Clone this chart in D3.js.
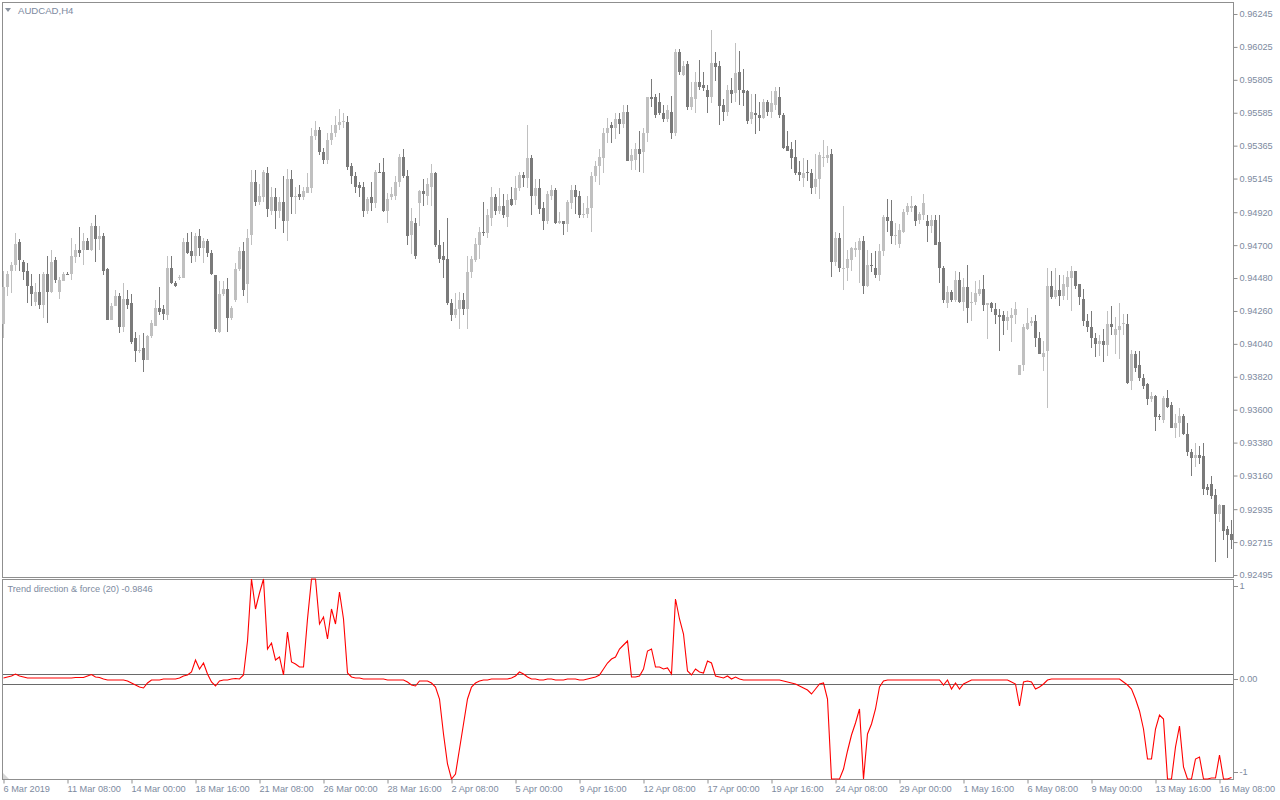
<!DOCTYPE html>
<html><head><meta charset="utf-8">
<script src="https://cdn.jsdelivr.net/npm/d3@7"></script>
<style>
html,body{margin:0;padding:0;background:#fff;overflow:hidden;}
svg{display:block;}
text{font-family:"Liberation Sans",Arial,sans-serif;}
</style></head><body>
<svg id="c" width="1280" height="800"></svg>
<script>
const symbolTitle = "AUDCAD,H4";
const indicatorTitle = "Trend direction & force (20) -0.9846";
const priceLabels = ["0.96245","0.96025","0.95805","0.95585","0.95365","0.95145","0.94920","0.94700","0.94480","0.94260","0.94040","0.93820","0.93600","0.93380","0.93160","0.92935","0.92715","0.92495"];
const timeLabels = ["6 Mar 2019","11 Mar 08:00","14 Mar 00:00","18 Mar 16:00","21 Mar 08:00","26 Mar 00:00","28 Mar 16:00","2 Apr 08:00","5 Apr 00:00","9 Apr 16:00","12 Apr 08:00","17 Apr 00:00","19 Apr 16:00","24 Apr 08:00","29 Apr 00:00","1 May 16:00","6 May 08:00","9 May 00:00","13 May 16:00","16 May 08:00"];
const timeTickBars = [0,16,32,48,64,80,96,112,128,144,160,176,192,208,224,240,256,272,288,304];
const trendAxisValues = [1, 0, -1];
const trendAxisLabels = ["1", "0.00", "-1"];
const trendLevels = [0.05, -0.05];

// prices in pips (x 0.0001)
const openP = [
9417,9442,9453,9457,9472,9459,9453,9443,9432,9439,
9430,9451,9439,9460,9439,9446,9451,9451,9462,9467,
9467,9473,9467,9483,9474,9476,9454,9420,9429,9436,
9415,9434,9431,9408,9399,9401,9393,9409,9416,9428,
9427,9423,9455,9445,9448,9448,9472,9466,9463,9476,
9468,9473,9465,9450,9412,9437,9441,9421,9433,9454,
9466,9444,9477,9512,9499,9502,9518,9493,9502,9493,
9499,9486,9514,9502,9504,9502,9505,9508,9543,9547,
9532,9527,9540,9545,9550,9552,9552,9523,9516,9510,
9509,9493,9502,9498,9519,9519,9493,9502,9503,9512,
9529,9516,9477,9485,9498,9506,9503,9509,9518,9470,
9463,9461,9431,9423,9427,9433,9427,9452,9460,9470,
9479,9478,9488,9502,9493,9496,9489,9501,9500,9508,
9517,9515,9528,9503,9508,9495,9486,9503,9507,9485,
9486,9484,9498,9507,9503,9490,9491,9495,9516,9523,
9528,9545,9550,9548,9554,9551,9559,9526,9527,9534,
9532,9545,9569,9569,9566,9558,9554,9559,9545,9599,
9584,9591,9562,9568,9579,9577,9574,9569,9592,9590,
9564,9559,9574,9572,9586,9574,9573,9554,9558,9557,
9555,9566,9559,9564,9569,9557,9536,9534,9529,9519,
9515,9519,9518,9509,9514,9528,9528,9531,9459,9475,
9454,9455,9460,9467,9467,9473,9443,9457,9455,9450,
9466,9489,9486,9476,9471,9479,9492,9495,9496,9487,
9490,9486,9483,9487,9472,9455,9431,9439,9433,9447,
9432,9442,9431,9432,9437,9441,9430,9431,9427,9423,
9423,9419,9421,9423,9383,9390,9414,9418,9419,9408,
9395,9399,9443,9435,9440,9436,9442,9448,9453,9444,
9434,9419,9415,9408,9404,9406,9403,9417,9410,9413,
9417,9417,9379,9397,9390,9381,9377,9367,9369,9356,
9353,9368,9363,9348,9351,9356,9344,9332,9328,9330,
9329,9308,9310,9303,9290,9296,9280,9277];
const highP = [
9453,9453,9459,9478,9474,9460,9458,9451,9445,9451,
9452,9463,9467,9462,9449,9452,9452,9475,9471,9482,
9478,9475,9485,9490,9483,9478,9455,9431,9440,9438,
9445,9440,9437,9412,9410,9411,9410,9420,9433,9442,
9430,9463,9463,9446,9450,9475,9478,9479,9478,9481,
9475,9474,9467,9450,9446,9446,9448,9429,9458,9469,
9472,9481,9520,9520,9511,9520,9522,9509,9508,9502,
9516,9521,9520,9509,9510,9509,9518,9548,9553,9549,
9535,9545,9550,9556,9561,9558,9556,9525,9519,9512,
9512,9502,9512,9520,9525,9528,9505,9509,9516,9531,
9534,9520,9495,9488,9507,9514,9515,9524,9519,9480,
9472,9488,9434,9438,9439,9438,9463,9463,9475,9482,
9499,9494,9509,9504,9508,9504,9504,9509,9516,9519,
9519,9550,9530,9514,9514,9499,9506,9510,9508,9492,
9486,9500,9510,9510,9506,9498,9503,9519,9526,9534,
9548,9555,9552,9558,9558,9564,9564,9534,9538,9546,
9548,9569,9581,9571,9572,9564,9564,9570,9601,9601,
9593,9593,9579,9586,9594,9586,9577,9614,9599,9593,
9568,9577,9582,9605,9600,9588,9574,9571,9571,9566,
9568,9567,9573,9576,9576,9558,9546,9539,9540,9526,
9528,9527,9521,9531,9532,9540,9536,9534,9479,9478,
9496,9467,9469,9472,9475,9476,9467,9465,9466,9471,
9490,9501,9500,9485,9484,9494,9498,9503,9497,9492,
9504,9490,9490,9490,9490,9456,9443,9440,9453,9452,
9448,9457,9439,9446,9447,9450,9431,9432,9431,9427,
9426,9426,9428,9432,9390,9417,9428,9422,9423,9412,
9406,9455,9453,9455,9450,9450,9453,9456,9453,9444,
9441,9424,9426,9411,9410,9414,9426,9429,9422,9431,
9424,9424,9400,9399,9399,9384,9378,9372,9370,9357,
9369,9373,9365,9357,9361,9357,9351,9334,9338,9336,
9338,9310,9316,9307,9297,9296,9282,9286];
const lowP = [
9408,9436,9438,9453,9453,9447,9431,9429,9429,9427,
9421,9418,9438,9445,9434,9446,9450,9447,9458,9462,
9457,9467,9466,9459,9467,9450,9420,9420,9429,9411,
9412,9427,9404,9392,9398,9385,9393,9408,9416,9423,
9420,9420,9444,9442,9447,9448,9464,9458,9459,9463,
9458,9462,9450,9412,9411,9436,9412,9420,9432,9453,
9436,9431,9470,9496,9497,9499,9489,9490,9481,9488,
9478,9473,9491,9491,9500,9500,9505,9505,9540,9530,
9524,9524,9537,9542,9547,9548,9520,9511,9505,9502,
9489,9491,9493,9495,9518,9492,9485,9500,9500,9509,
9515,9470,9464,9461,9483,9496,9497,9496,9469,9458,
9448,9430,9419,9421,9414,9423,9414,9448,9459,9461,
9476,9475,9483,9490,9491,9488,9482,9496,9497,9506,
9509,9508,9490,9497,9491,9480,9484,9500,9484,9484,
9477,9479,9494,9491,9488,9488,9488,9479,9512,9510,
9518,9538,9538,9541,9544,9548,9526,9520,9520,9519,
9518,9539,9562,9555,9557,9552,9552,9541,9543,9584,
9583,9560,9560,9558,9574,9573,9558,9565,9580,9550,
9553,9556,9565,9566,9564,9563,9551,9551,9544,9546,
9554,9556,9555,9560,9555,9534,9533,9521,9517,9513,
9509,9513,9504,9504,9501,9522,9525,9449,9456,9452,
9440,9446,9453,9462,9445,9437,9442,9452,9448,9446,
9463,9479,9471,9470,9468,9478,9490,9492,9483,9484,
9487,9472,9478,9470,9445,9431,9428,9432,9432,9431,
9426,9418,9419,9430,9436,9426,9407,9425,9417,9399,
9410,9413,9405,9417,9383,9386,9413,9416,9402,9397,
9386,9361,9434,9434,9429,9433,9433,9426,9441,9430,
9416,9412,9401,9395,9396,9392,9396,9410,9397,9394,
9410,9377,9373,9385,9379,9374,9363,9365,9346,9353,
9351,9361,9348,9341,9342,9343,9329,9316,9322,9324,
9303,9303,9300,9258,9285,9273,9261,9267];
const closeP = [
9442,9451,9457,9471,9460,9452,9443,9437,9439,9430,
9451,9439,9459,9447,9447,9451,9451,9463,9467,9465,
9473,9467,9483,9474,9476,9453,9420,9429,9436,9415,
9434,9430,9405,9399,9400,9393,9409,9418,9428,9425,
9424,9455,9445,9443,9449,9472,9465,9463,9476,9468,
9473,9465,9451,9414,9437,9441,9421,9428,9454,9466,
9440,9475,9512,9499,9503,9519,9494,9502,9493,9499,
9486,9514,9502,9503,9502,9506,9509,9543,9547,9532,
9527,9540,9545,9550,9552,9553,9522,9516,9509,9508,
9493,9501,9498,9519,9519,9493,9501,9504,9512,9529,
9516,9476,9486,9463,9506,9504,9511,9518,9470,9461,
9460,9431,9423,9427,9433,9427,9452,9461,9471,9479,
9478,9490,9502,9493,9496,9490,9500,9497,9508,9517,
9515,9528,9503,9508,9494,9486,9504,9507,9485,9486,
9484,9499,9507,9502,9490,9491,9495,9516,9523,9529,
9545,9548,9548,9554,9551,9559,9526,9530,9534,9531,
9545,9569,9568,9557,9558,9554,9560,9545,9599,9586,
9590,9562,9569,9579,9576,9575,9569,9592,9589,9563,
9559,9574,9571,9585,9574,9572,9553,9559,9557,9555,
9566,9559,9565,9573,9557,9535,9533,9528,9518,9517,
9518,9518,9508,9514,9530,9529,9530,9459,9475,9455,
9455,9461,9468,9468,9473,9443,9457,9456,9450,9466,
9489,9486,9476,9477,9480,9492,9496,9496,9486,9491,
9498,9483,9487,9470,9455,9433,9439,9433,9447,9432,
9442,9428,9432,9438,9441,9430,9431,9428,9423,9422,
9419,9422,9423,9427,9390,9415,9418,9419,9408,9397,
9398,9443,9435,9440,9436,9444,9449,9453,9443,9435,
9419,9415,9408,9404,9406,9403,9417,9415,9414,9416,
9418,9378,9397,9388,9381,9376,9367,9369,9355,9355,
9368,9362,9348,9351,9356,9344,9332,9328,9330,9328,
9307,9306,9302,9290,9296,9279,9276,9273];
const trend = [
0.01,0.02,0.03,0.05,0.03,0.02,0.01,0.01,0.01,0.01,
0.01,0.01,0.01,0.01,0.01,0.01,0.01,0.01,0.015,0.015,
0.015,0.03,0.045,0.02,0.015,0,-0.01,-0.01,-0.01,-0.01,
-0.01,-0.02,-0.04,-0.06,-0.08,-0.09,-0.04,-0.01,-0.01,-0.01,
0,0,0,0,0.01,0.03,0.04,0.07,0.19,0.1,
0.16,0.05,-0.03,-0.07,-0.02,-0.01,-0.01,0,0.005,0,
0.04,0.38,1,0.7,0.86,1,0.3,0.36,0.19,0.22,
0.04,0.47,0.17,0.15,0.12,0.12,0.6,1,1,0.55,
0.62,0.4,0.7,0.55,0.87,0.6,0.06,0.02,0.01,0.01,
0,0,0,0,0,0,-0.01,-0.01,-0.01,-0.01,
-0.01,-0.03,-0.06,-0.07,-0.02,-0.02,-0.02,-0.04,-0.08,-0.2,
-0.55,-0.85,-1,-0.95,-0.7,-0.45,-0.2,-0.08,-0.04,-0.02,
-0.01,-0.01,0,0,0,0,0,0.01,0.03,0.07,
0.05,0.02,0,0,-0.01,-0.01,0,0,-0.01,-0.01,
-0.01,0,0,0,-0.01,-0.01,0,0.01,0.02,0.04,
0.1,0.16,0.2,0.22,0.3,0.34,0.38,0.02,0.02,0.03,
0.1,0.28,0.3,0.12,0.12,0.1,0.11,0.05,0.8,0.6,
0.45,0.08,0.04,0.1,0.07,0.06,0.18,0.16,0.03,0.02,
0.01,0.03,0,0.02,0,-0.01,-0.01,-0.01,-0.01,-0.01,
-0.01,-0.01,-0.01,-0.01,-0.01,-0.02,-0.03,-0.04,-0.05,-0.07,
-0.09,-0.11,-0.15,-0.1,-0.05,-0.04,-0.2,-1,-1,-1,
-0.9,-0.72,-0.56,-0.44,-0.3,-1,-0.55,-0.45,-0.3,-0.08,
-0.02,-0.01,-0.01,-0.01,-0.01,-0.01,-0.01,-0.01,-0.01,-0.01,
-0.01,-0.01,-0.01,-0.01,-0.01,-0.06,-0.01,-0.1,-0.04,-0.1,
-0.05,-0.03,-0.01,-0.01,-0.01,-0.01,-0.01,-0.01,-0.01,-0.01,
-0.01,-0.01,-0.03,-0.05,-0.27,-0.03,-0.02,-0.03,-0.1,-0.08,
-0.05,-0.01,0,0,0,0,0,0,0,0,
0,0,0,0,0,0,0,0,0,0,
-0.03,-0.06,-0.1,-0.2,-0.32,-0.5,-0.8,-0.8,-0.5,-0.36,
-0.4,-1,-1,-0.68,-0.47,-0.88,-1,-1,-0.8,-0.78,
-1,-1,-0.99,-0.99,-0.76,-1,-1,-0.9846];

const PIP = 0.0001;
const bars = openP.map((o, i) => ({
  i, o: o * PIP, h: highP[i] * PIP, l: lowP[i] * PIP, c: closeP[i] * PIP
}));

const TEXT = "#7d8aa0", FRAME = "#8f8f8f";
const BULL = "#c0c0c0", BEAR = "#7a7a7a";
const FONT = "9.2px";

const svg = d3.select("#c");
const x = d3.scaleLinear().domain([0, bars.length - 1]).range([3, 3 + 4 * (bars.length - 1)]);
const priceTicks = priceLabels.map(Number);
const yP = d3.scaleLinear().domain([priceTicks[priceTicks.length - 1], priceTicks[0]]).range([575, 14]);
const yT = d3.scaleLinear().domain([-1, 1]).range([779, 579]);

// frames
svg.append("rect").attr("x", 2.5).attr("y", 2.5).attr("width", 1231).attr("height", 574.5)
  .attr("fill", "none").attr("stroke", FRAME).attr("shape-rendering", "crispEdges");
svg.append("rect").attr("x", 2.5).attr("y", 579.5).attr("width", 1231).attr("height", 200)
  .attr("fill", "none").attr("stroke", FRAME).attr("shape-rendering", "crispEdges");

// title
svg.append("path").attr("d", "M5,8 L11,8 L8,12 Z").attr("fill", "#8a93a0");
svg.append("text").attr("x", 18).attr("y", 13.5).attr("font-size", "9.6px").attr("fill", TEXT).text(symbolTitle);

// candles
const cg = svg.append("g").attr("shape-rendering", "crispEdges");
const cs = cg.selectAll("g.bar").data(bars).join("g").attr("class", "bar");
cs.append("rect")
  .attr("x", d => x(d.i)).attr("width", 1)
  .attr("y", d => Math.round(yP(d.h)))
  .attr("height", d => Math.max(1, Math.round(yP(d.l)) - Math.round(yP(d.h))))
  .attr("fill", d => d.c > d.o ? BULL : BEAR);
cs.append("rect")
  .attr("x", d => x(d.i) - 1).attr("width", 3)
  .attr("y", d => Math.round(yP(Math.max(d.o, d.c))))
  .attr("height", d => Math.max(1, Math.round(yP(Math.min(d.o, d.c))) - Math.round(yP(Math.max(d.o, d.c)))))
  .attr("fill", d => d.c > d.o ? BULL : BEAR);

// price axis
const pa = svg.append("g").attr("transform", "translate(1233.5,0)")
  .call(d3.axisRight(yP).tickValues(priceTicks).tickFormat((d, i) => priceLabels[i]).tickSize(4).tickPadding(2));
pa.select(".domain").remove();
pa.selectAll("line").attr("stroke", FRAME);
pa.selectAll("text").attr("fill", TEXT).attr("font-size", FONT).attr("font-family", "Liberation Sans, Arial, sans-serif");
pa.attr("font-family", null).attr("font-size", null);

// indicator panel
const clip = svg.append("clipPath").attr("id", "ic").append("rect")
  .attr("x", 3).attr("y", 578).attr("width", 1230).attr("height", 202);
const ig = svg.append("g").attr("clip-path", "url(#ic)");
ig.selectAll("line.lvl").data(trendLevels).join("line").attr("class", "lvl")
  .attr("x1", 3).attr("x2", 1233)
  .attr("y1", d => Math.round(yT(d)) + 0.5).attr("y2", d => Math.round(yT(d)) + 0.5)
  .attr("stroke", "#6a6a6a").attr("stroke-width", 1).attr("shape-rendering", "crispEdges");
ig.append("path").datum(trend)
  .attr("d", d3.line().x((d, i) => x(i) + 0.5).y(d => yT(d)))
  .attr("fill", "none").attr("stroke", "#ff0000").attr("stroke-width", 1.1);

svg.append("text").attr("x", 7.5).attr("y", 591.5).attr("font-size", FONT).attr("fill", TEXT).text(indicatorTitle);
svg.append("path").attr("d", "M3,773 L3,779 L9,779 Z").attr("fill", "#d6d6d6");

// indicator axis
const ta = svg.append("g").attr("transform", "translate(1233.5,0)");
const tpos = v => Math.min(772, Math.max(586, yT(v)));
ta.selectAll("line").data(trendAxisValues).join("line")
  .attr("x1", 0).attr("x2", 4).attr("y1", d => Math.round(tpos(d)) + 0.5).attr("y2", d => Math.round(tpos(d)) + 0.5)
  .attr("stroke", FRAME).attr("shape-rendering", "crispEdges");
ta.selectAll("text").data(trendAxisValues).join("text")
  .attr("x", 6).attr("y", d => tpos(d)).attr("dy", "0.33em")
  .attr("font-size", FONT).attr("fill", TEXT).text((d, i) => trendAxisLabels[i]);

// time axis
const xa = svg.append("g").attr("transform", "translate(0,779.5)")
  .call(d3.axisBottom(x).tickValues(timeTickBars).tickFormat((d, i) => timeLabels[i]).tickSize(4).tickPadding(2));
xa.select(".domain").remove();
xa.selectAll("line").attr("stroke", FRAME).attr("transform", "translate(0.5,0)");
xa.selectAll("text").attr("fill", TEXT).attr("font-size", FONT)
  .attr("font-family", "Liberation Sans, Arial, sans-serif").attr("text-anchor", "start").attr("x", 0);
xa.attr("font-family", null).attr("font-size", null);
</script>
</body></html>
